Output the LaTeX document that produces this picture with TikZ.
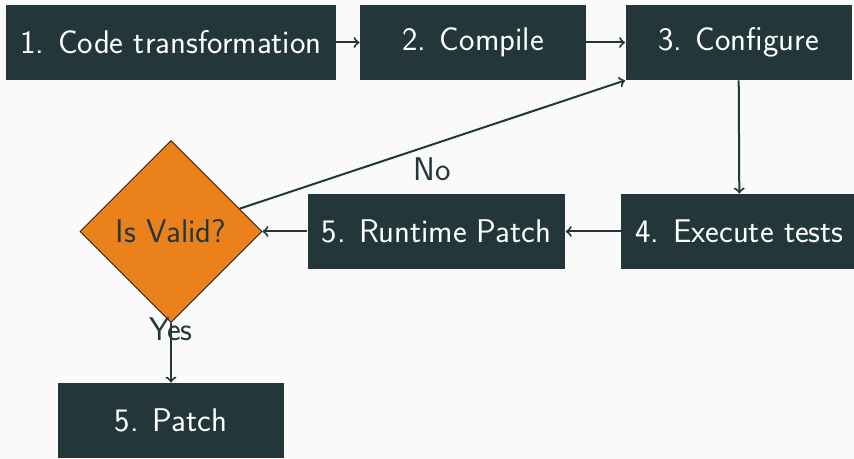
\documentclass[tikz,border=0pt]{standalone}
\usepackage{tikz}
\usetikzlibrary{shapes.geometric, arrows}
\definecolor{mDarkTeal}{HTML}{23373B}
\definecolor{mOrange}{HTML}{EB811B}
\definecolor{mBackground}{HTML}{FAFAFA}
\tikzstyle{process} = [rectangle, minimum width=113pt, minimum height=37.5pt, inner xsep=7pt, text centered, fill=mDarkTeal, text=white]
\tikzstyle{decision} = [diamond, aspect=1, minimum width=91pt, minimum height=91pt, inner sep=0pt, text centered, draw=black, fill=mOrange, text=mDarkTeal]
\tikzstyle{arrow} = [line width=1pt, draw=mDarkTeal, ->, >=to]
\tikzstyle{answer} = [text=mDarkTeal]

\begin{document}
\begin{tikzpicture}[font=\sffamily\fontsize{16.4}{19}\selectfont]
                \fill [mBackground] (0,0) rectangle (427pt,-229.5pt);
                \useasboundingbox (0,0) rectangle (427pt,-229.5pt);

                \node (transform) [process] at (85.5pt,-21.25pt) {1. Code transformation};
                \node (compile) [process, right of = transform, node distance=151pt] {2. Compile};
                \node (configure) [process, right of = compile, node distance=132.75pt] {3. Configure};

                \node (execute) [process, below of = configure, node distance=94.5pt, xshift=0.5pt] {4. Execute tests};
                \node (runtime) [process, left of = execute, node distance=151.5pt] {5. Runtime Patch};

                \node (valid) [decision, left of = runtime, node distance=132.75pt] {Is Valid?};

                \node (patch) [process, below of = valid, node distance=94.5pt] {5. Patch};

% ---------------------------------------------
% All arrows (for top row)
% ---------------------------------------------

                \draw [arrow] (transform) -- (compile);
                \draw [arrow] (compile) -- (configure);
                \draw [arrow] (configure) -- (execute);

% ---------------------------------------------
% All arrows (for middle row)
% ---------------------------------------------

                \draw [arrow] (execute) -- (runtime);
                \draw [arrow] (runtime) -- (valid);
                \draw [arrow] (valid) -- node [answer, below, yshift=-3pt] {No} (configure.south west);
                \draw [arrow] (valid) -- node [answer, pos=0.1] {Yes} (patch);

            \end{tikzpicture}
\end{document}
